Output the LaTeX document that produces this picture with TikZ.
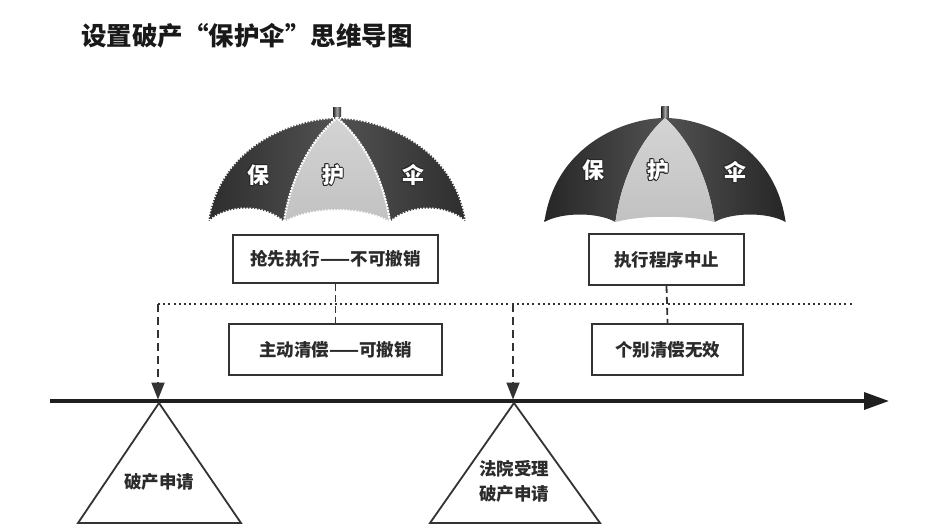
\documentclass[tikz,border=0pt]{standalone}
\usepackage{fontspec}
\setmainfont{Noto Sans CJK SC}
\usetikzlibrary{arrows.meta}
\definecolor{dk}{HTML}{404040}
\definecolor{lt}{HTML}{C9C9C9}
\definecolor{boxc}{HTML}{333333}
\definecolor{txt}{HTML}{2B2B2B}
\newcommand\mycopy[3]{\rlap{\kern#1\raisebox{#2}{#3}}}
\newcommand\outl[1]{{\color{black!85}\mycopy{-1pt}{0pt}{#1}\mycopy{1pt}{0pt}{#1}\mycopy{0pt}{1pt}{#1}\mycopy{0pt}{-1pt}{#1}\mycopy{-.7pt}{.7pt}{#1}\mycopy{.7pt}{.7pt}{#1}\mycopy{-.7pt}{-.7pt}{#1}\mycopy{.7pt}{-.7pt}{#1}}\textcolor{white}{#1}}
\tikzset{
 lpan/.style={insert path={(0,118) .. controls (-40,118) and (-117,143) .. (-129,222) .. controls (-110,#1) and (-72,#1) .. (-53,222) .. controls (-47,180) and (-27,140) .. (0,118) -- cycle}},
 rpan/.style={insert path={(0,118) .. controls (40,118) and (117,143) .. (129,222) .. controls (110,#1) and (72,#1) .. (53,222) .. controls (47,180) and (27,140) .. (0,118) -- cycle}},
 mpan/.style={insert path={(0,118) .. controls (-27,140) and (-47,180) .. (-53,222) .. controls (-25,#1) and (25,#1) .. (53,222) .. controls (47,180) and (27,140) .. (0,118) -- cycle}},
 serr/.style={draw=white, line width=2pt, dash pattern=on 1.5pt off 1.5pt},
 knob/.style={left color=black!85, right color=black!85, middle color=black!35},
}
\begin{document}
\begin{tikzpicture}[x=1pt,y=-1pt,
  box/.style={draw=boxc, line width=1.8pt, fill=white, inner sep=0pt, font=\fontsize{17.5}{20}\selectfont\bfseries, text=txt},
  conn/.style={draw=boxc, line width=1.8pt, dash pattern=on 7pt off 4pt},
  darr/.style={draw=boxc, line width=1.8pt, dash pattern=on 8pt off 5pt, -{Triangle[length=17pt,width=13pt]}},
  dotl/.style={draw=boxc, line width=2pt, dash pattern=on 2pt off 3.2pt},
  tri/.style={draw=boxc, line width=1.8pt, line join=miter},
  ttext/.style={font=\fontsize{17.5}{25}\selectfont\bfseries, text=txt, align=center, inner sep=0pt},
  utext/.style={font=\fontsize{22}{22}\selectfont\bfseries, inner sep=0pt}
]
\useasboundingbox (0,0) rectangle (928,529);
\fill[white] (0,0) rectangle (928,529);

% title
\node[anchor=west, inner sep=0pt, font=\fontsize{25.5}{30}\selectfont\bfseries, text=black!90] (title) at (81,36) {设置破产“保护伞”思维导图};

% left umbrella (serrated)
\begin{scope}[shift={(337,0)}]
  \shade[knob] (-4,108) rectangle (4,119);
  \shade[left color=black!82, right color=black!68, lpan=204];
  \shade[left color=black!68, right color=black!82, rpan=204];
  \shade[top color=black!17, bottom color=black!24, mpan=206];
  \path[serr, lpan=204];
  \path[serr, rpan=204];
  \path[serr, mpan=206];
\end{scope}
\node[utext] (l1) at (258,175) {\outl{保}};
\node[utext] (l2) at (333,175) {\outl{护}};
\node[utext] (l3) at (413,175) {\outl{伞}};

% right umbrella (smooth)
\begin{scope}[shift={(665,0)}, xscale=0.935]
  \shade[knob] (-4,107) rectangle (4,119);
  \shade[left color=black!85, right color=black!68, lpan=212];
  \shade[left color=black!68, right color=black!85, rpan=212];
  \shade[top color=black!17, bottom color=black!24, mpan=215];
\end{scope}
\node[utext] (r1) at (593,170) {\outl{保}};
\node[utext] (r2) at (658,170) {\outl{护}};
\node[utext] (r3) at (735,172) {\outl{伞}};

% dotted line
\coordinate (dotL) at (158,304);
\coordinate (dotM) at (513,304);
\coordinate (dotR) at (852,304);
\draw[dotl] (dotL) -- (dotR);

% boxes
\node[box, minimum width=205pt, minimum height=48pt] (b1) at (335.5,259) {抢先执行——不可撤销};
\node[box, minimum width=213pt, minimum height=51pt] (b2) at (335.5,349.5) {主动清偿——可撤销};
\node[box, minimum width=155pt, minimum height=51pt] (b3) at (666.5,259.5) {执行程序中止};
\node[box, minimum width=151pt, minimum height=51pt] (b4) at (667.5,349.5) {个别清偿无效};
\draw[conn] (b1.south) -- (b2.north);
\draw[conn] (b3.south) -- (b4.north);

% axis and dashed arrows
\coordinate (axL) at (50,401);
\coordinate (axR) at (889,401);
\coordinate (a1) at (158,399.5);
\coordinate (a2) at (513,399.5);
\draw[darr] (dotL) -- (a1);
\draw[darr] (dotM) -- (a2);
\draw[line width=3.5pt, draw=black!88, -{Triangle[length=25pt,width=17pt]}] (axL) -- (axR);

% triangles
\coordinate (t1a) at (159,403);
\coordinate (t1b) at (78,523);
\coordinate (t1c) at (241,523);
\draw[tri] (t1a) -- (t1b) -- (t1c) -- cycle;
\node[ttext] (t1) at (159,482) {破产申请};
\coordinate (t2a) at (514,403);
\coordinate (t2b) at (430,523);
\coordinate (t2c) at (600,523);
\draw[tri] (t2a) -- (t2b) -- (t2c) -- cycle;
\node[ttext] (t2) at (514,481) {法院受理\\破产申请};
\end{tikzpicture}
\end{document}
